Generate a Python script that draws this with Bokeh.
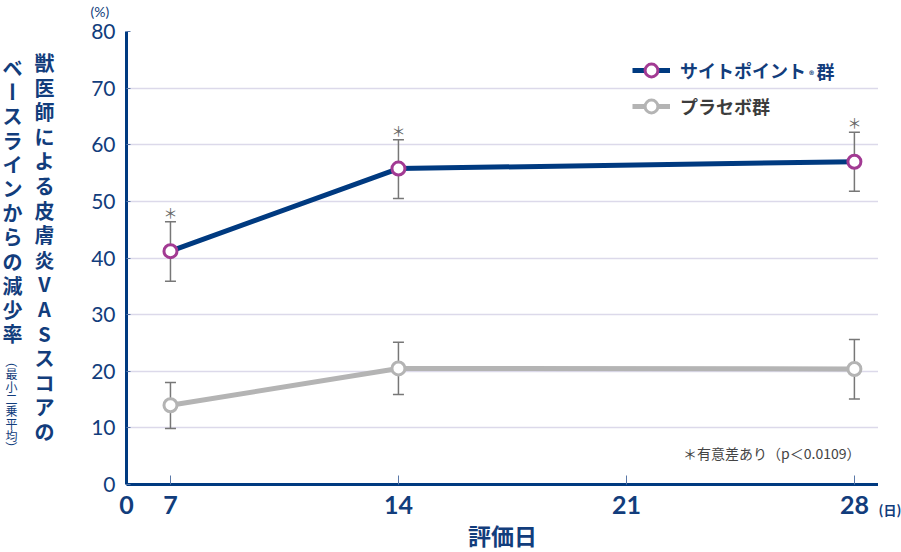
from bokeh.plotting import figure
from bokeh.layouts import row
from bokeh.models import (ColumnDataSource, Whisker, Legend, LegendItem, FixedTicker, TeeHead,
                          Label, Title)
from bokeh.core.properties import value
from bokeh.embed import file_html
from bokeh.resources import INLINE
import math

# ---- data ----
days = [7, 14, 28]
site_mean = [41.2, 55.8, 57.0]
site_upper = [46.4, 60.9, 62.2]
site_lower = [35.9, 50.5, 51.8]
plac_mean = [14.0, 20.5, 20.4]
plac_upper = [18.0, 25.1, 25.6]
plac_lower = [9.9, 15.9, 15.1]
sig_marks = ["＊", "＊", "＊"]
x_start = 5.65
x_ticks = [x_start, 7, 14, 21, 28]
x_labels = {x_start: "0"}
y_ticks = [0, 10, 20, 30, 40, 50, 60, 70, 80]
series_names = ["サイトポイント", "プラセボ群"]
y_title_1 = "獣医師による皮膚炎VASスコアの"
y_title_2 = "ベースラインからの減少率"
y_title_3 = "（最小二乗平均）"
x_title = "評価日"
x_unit = "(日)"
y_unit = "(%)"
note = "＊有意差あり（p＜0.0109）"

FONT = "Noto Sans CJK JP"
NUMFONT = "Lato"
MIXFONT = "Lato, 'Noto Sans CJK JP'"
NAVY = "#003a80"
TXT = "#123d7c"
MAG = "#a23a93"
GRAY = "#b4b4b4"
ERR = "#777777"
H = 552
LEFT_W = 60
RIGHT_W = 23
F_TOP, F_BOT = 31, 484  # frame top / bottom (canvas px)

# ---------------- main chart ----------------
p = figure(width=901 - LEFT_W - RIGHT_W, height=H, x_range=(x_start, 28.74), y_range=(0, 80),
           output_backend="svg", toolbar_location=None,
           min_border_left=126 - LEFT_W, min_border_right=0, min_border_top=F_TOP,
           min_border_bottom=H - F_BOT)
p.outline_line_color = None
p.background_fill_color = "white"

# above panel: spacer (next to frame), then the "(%)" unit further out
p.title.text = ""
p.add_layout(Title(text=" ", text_font=NUMFONT, text_font_size="7px", standoff=0), "above")
p.add_layout(Title(text=y_unit, align="left", offset=-36, vertical_align="top", standoff=0,
                   text_font=NUMFONT, text_font_size="14px", text_font_style="normal",
                   text_color=TXT), "above")

p.yaxis.ticker = FixedTicker(ticks=y_ticks)
p.yaxis.axis_line_color = NAVY
p.yaxis.axis_line_width = 3
p.yaxis.major_tick_in = 4
p.yaxis.major_tick_out = 0
p.yaxis.major_tick_line_color = "#5a78a8"
p.yaxis.minor_tick_line_color = None
p.yaxis.major_label_text_font = NUMFONT
p.yaxis.major_label_text_font_size = "21px"
p.yaxis.major_label_text_color = TXT
p.yaxis.major_label_standoff = 11

p.xaxis.ticker = FixedTicker(ticks=x_ticks)
p.xaxis.major_label_overrides = x_labels
p.xaxis.axis_line_color = NAVY
p.xaxis.axis_line_width = 3
p.xaxis.major_tick_in = 9
p.xaxis.major_tick_out = 0
p.xaxis.major_tick_line_color = "#5a78a8"
p.xaxis.minor_tick_line_color = None
p.xaxis.major_label_text_font = NUMFONT
p.xaxis.major_label_text_font_size = "25px"
p.xaxis.major_label_text_font_style = "bold"
p.xaxis.major_label_text_color = TXT
p.xaxis.major_label_standoff = 11
p.xaxis.axis_label = x_title
p.xaxis.axis_label_text_font = MIXFONT
p.xaxis.axis_label_text_font_size = "23px"
p.xaxis.axis_label_text_font_style = "bold"
p.xaxis.axis_label_text_color = TXT
p.xaxis.axis_label_standoff = 5

p.xgrid.grid_line_color = None
p.ygrid.grid_line_color = "#dcd9ea"
p.ygrid.grid_line_width = 1.5

src_s = ColumnDataSource(dict(x=days, y=site_mean, upper=site_upper, lower=site_lower, star=sig_marks))
src_p = ColumnDataSource(dict(x=days, y=plac_mean, upper=plac_upper, lower=plac_lower))

for src in (src_p, src_s):
    w = Whisker(source=src, base="x", upper="upper", lower="lower",
                line_color=ERR, line_width=1.5,
                upper_head=TeeHead(size=11, line_color=ERR, line_width=1.5),
                lower_head=TeeHead(size=11, line_color=ERR, line_width=1.5))
    p.add_layout(w)

lp = p.line("x", "y", source=src_p, line_color=GRAY, line_width=5)
sp = p.scatter("x", "y", source=src_p, marker="circle", size=13, line_color=GRAY, line_width=3, fill_color="white")
ls = p.line("x", "y", source=src_s, line_color=NAVY, line_width=5)
ss = p.scatter("x", "y", source=src_s, marker="circle", size=13, line_color=MAG, line_width=3, fill_color="white")

p.text("x", "upper", text="star", source=src_s, text_font=value(FONT), text_font_size="14px",
       text_color="#666666", text_align="center", text_baseline="middle", y_offset=-10)

def make_legend(lbl, rends, color, loc):
    lg = Legend(items=[LegendItem(label=lbl, renderers=rends)], location=loc,
                background_fill_alpha=0, border_line_alpha=0, padding=0, margin=0,
                glyph_width=38, glyph_height=32, label_height=32, label_standoff=10,
                label_text_font=FONT, label_text_font_size="18px", label_text_font_style="bold",
                label_text_color=color, label_text_baseline="middle")
    p.add_layout(lg)

make_legend(series_names[0], [ls, ss], TXT, (506, 398))
make_legend(series_names[1], [lp, sp], "#3c3c3c", (506, 362))

L0 = 126  # frame left in canvas px

def lab(text, cx, cy, size, style="normal", color=TXT, align="center"):
    p.add_layout(Label(x=cx - L0, y=F_BOT - cy, x_units="screen", y_units="screen", text=text,
                       text_font=FONT, text_font_size=size, text_font_style=style,
                       text_color=color, text_align=align, text_baseline="middle"))

lab("®", 811, 74, "10px", "bold")
lab("群", 825, 70, "18px", "bold")
lab(note, 860, 452, "14px", color="#444444", align="right")

# ---------------- left strip: vertical y-axis title ----------------
# its frame is aligned with the main frame (canvas y 31..484); data y = canvas-from-bottom
left = figure(width=LEFT_W, height=H, x_range=(0, LEFT_W), y_range=(H - F_BOT, H - F_TOP),
              output_backend="svg", toolbar_location=None, min_border=0,
              x_axis_type=None, y_axis_type=None)
left.outline_line_color = None
left.grid.visible = False

cx, cy, ct, cs, cw, ca = [], [], [], [], [], []
for i, ch in enumerate(y_title_1):
    cx.append(44); cy.append(H - (62 + i * 24.6)); ct.append(ch); cs.append("20px"); cw.append("bold"); ca.append(0.0)
for i, ch in enumerate(y_title_2):
    cx.append(12); cy.append(H - (67 + i * 24.2)); ct.append(ch); cs.append("20px"); cw.append("bold")
    ca.append(-math.pi / 2 if ch == "ー" else 0.0)
for i, ch in enumerate(y_title_3):
    cx.append(11); cy.append(H - (361 + i * 12.3)); ct.append(ch); cs.append("12px"); cw.append("normal")
    ca.append(-math.pi / 2 if ch in "（）" else 0.0)
tsrc = ColumnDataSource(dict(x=cx, y=cy, t=ct, s=cs, w=cw, a=ca))
left.text("x", "y", text="t", source=tsrc, text_font=value(FONT), text_font_size="s",
          text_font_style="w", angle="a", text_color=TXT, text_align="center", text_baseline="middle")

# ---------------- right strip: x unit as a tick label ----------------
right = figure(width=RIGHT_W, height=H, x_range=(0, RIGHT_W), y_range=(0, 1),
               output_backend="svg", toolbar_location=None, min_border=0, y_axis_type=None)
right.outline_line_color = None
right.grid.visible = False
right.xaxis.ticker = FixedTicker(ticks=[RIGHT_W / 2])
right.xaxis.major_label_overrides = {RIGHT_W / 2: x_unit}
right.xaxis.axis_line_color = None
right.xaxis.major_tick_line_color = None
right.xaxis.minor_tick_line_color = None
right.xaxis.major_label_text_font = FONT
right.xaxis.major_label_text_font_size = "13px"
right.xaxis.major_label_text_font_style = "bold"
right.xaxis.major_label_text_color = TXT
right.xaxis.major_label_standoff = 9

layout = row(left, p, right, spacing=0)
open("out.html", "w").write(file_html(layout, INLINE))
